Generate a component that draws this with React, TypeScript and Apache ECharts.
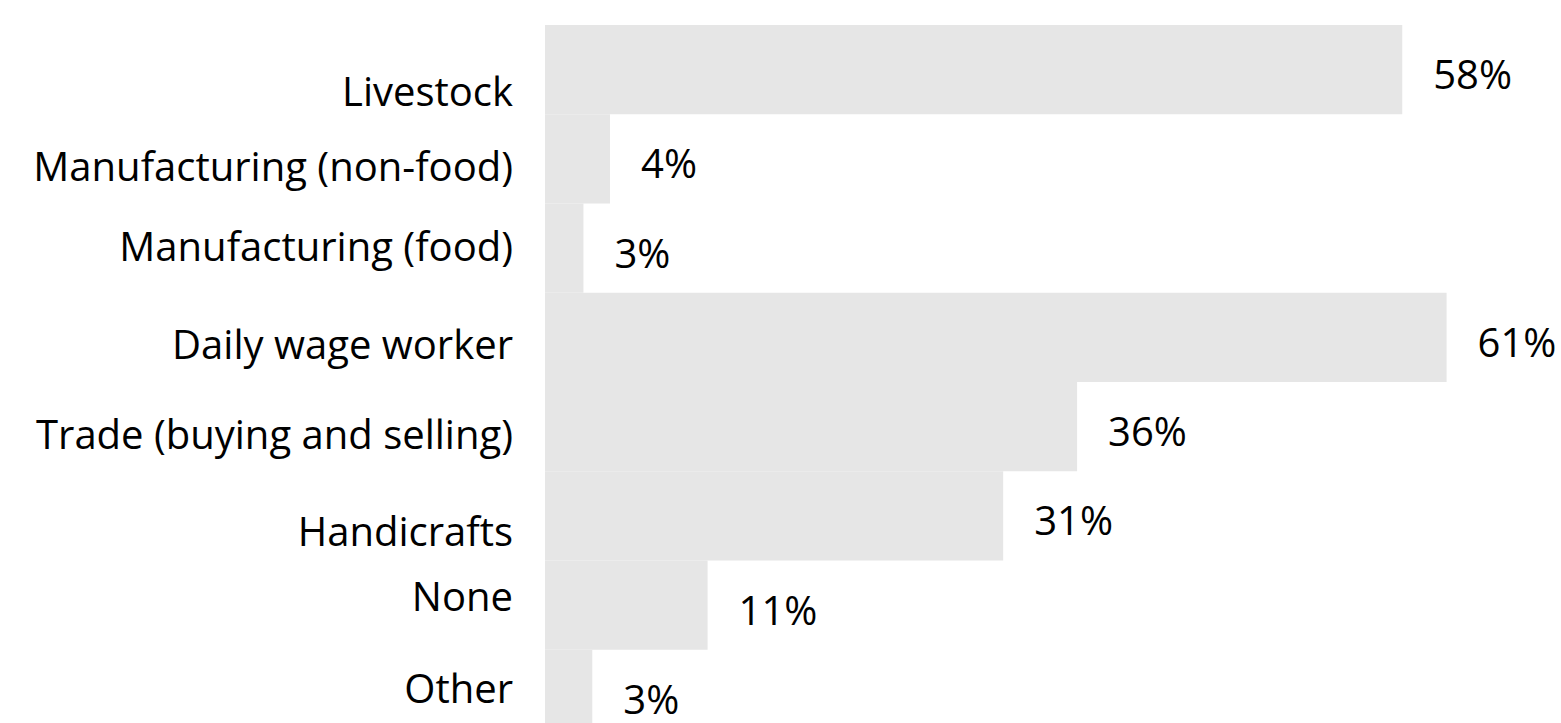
import React, { useEffect, useRef } from "react";
import * as echarts from "echarts";

const categories = [
  "Livestock",
  "Manufacturing (non-food)",
  "Manufacturing (food)",
  "Daily wage worker",
  "Trade (buying and selling)",
  "Handicrafts",
  "None",
  "Other",
];
const values = [58, 4.4, 2.6, 61, 36, 31, 11, 3.2];

// vertical nudges of the category labels (px), as in the reference
const labelShift = [21, 7, -3, 6, 7, 15, -10, -7];

const FONT = "'Open Sans', sans-serif";

export default function App() {
  const ref = useRef<HTMLDivElement>(null);
  useEffect(() => {
    if (!ref.current) return;
    document.documentElement.style.overflow = "hidden";
    document.body.style.overflow = "hidden";
    const chart = echarts.init(ref.current, null, { renderer: "svg" });
    const rich: Record<string, any> = {};
    labelShift.forEach((s, i) => {
      rich["s" + i] = {
        color: "#000",
        fontSize: 40,
        fontFamily: FONT,
        padding: s >= 0 ? [2 * s, 0, 0, 0] : [0, 0, -2 * s, 0],
      };
    });
    chart.setOption({
      animation: false,
      grid: { left: 545, top: 25, width: 68 * 14.78, height: 714 },
      xAxis: {
        type: "value",
        min: 0,
        max: 68,
        show: false,
      },
      yAxis: {
        type: "category",
        inverse: true,
        data: categories,
        axisLine: { show: false },
        axisTick: { show: false },
        splitLine: { show: false },
        axisLabel: {
          margin: 32,
          color: "#000",
          fontSize: 40,
          fontFamily: FONT,
          interval: 0,
          formatter: (v: string, i: number) => `{s${i}|${v}}`,
          rich,
        },
      },
      series: [
        {
          type: "bar",
          data: values,
          barCategoryGap: 0,
          itemStyle: { color: "#e6e6e6" },
          label: {
            show: true,
            position: "right",
            distance: 31,
            offset: [0, 4],
            color: "#000",
            fontSize: 40,
            fontFamily: FONT,
            formatter: (p: any) => Math.round(p.value) + "%",
          },
        },
      ],
    });
    return () => chart.dispose();
  }, []);
  return (
    <div
      ref={ref}
      style={{ position: "absolute", left: 0, top: 0, width: 1561, height: 760 }}
    />
  );
}
